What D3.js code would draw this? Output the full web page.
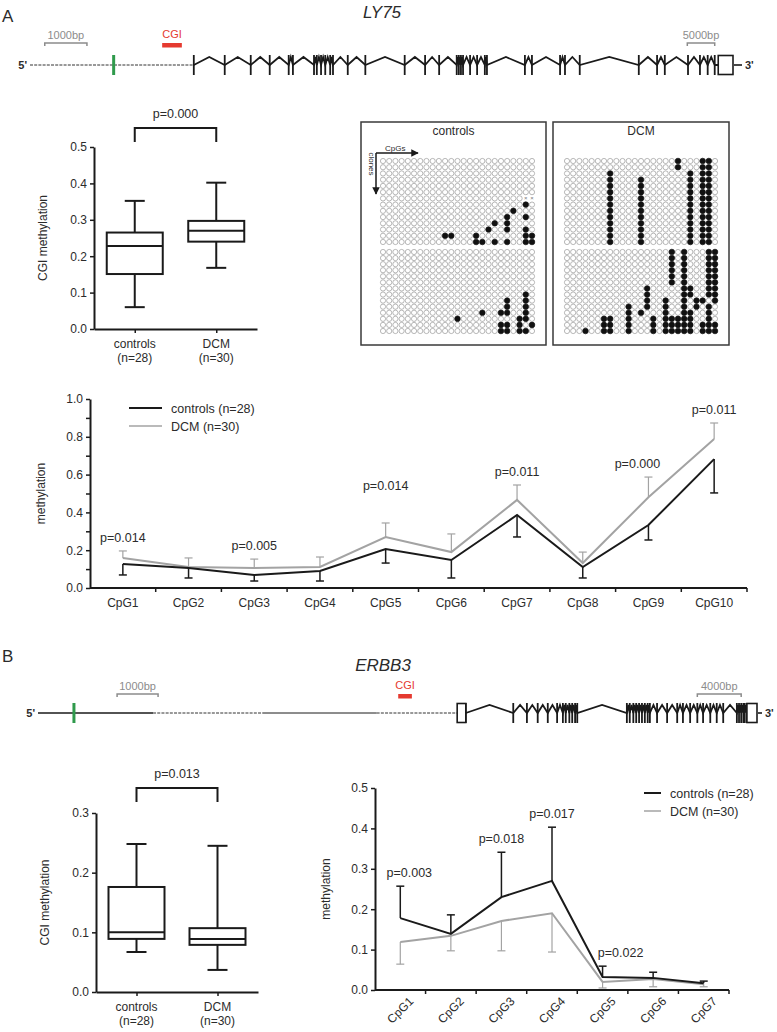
<!DOCTYPE html>
<html>
<head>
<meta charset="utf-8">
<script src="https://cdn.jsdelivr.net/npm/d3@7"></script>
<style>
body { margin: 0; background: #fff; }
svg text { font-family: "Liberation Sans", Arial, sans-serif; fill: #2b2b2b; }
</style>
</head>
<body>
<div id="fig"></div>
<script>
// ---------- data ----------
// gene tracks, positions in track units (0 = left end of drawn line, 100 = right end)
const ly75Exons = [23.3, 27.7, 31.4, 34.1, 36.8, 37.4, 40.4, 40.8, 41.4, 42.0, 42.7, 43.1, 45.2, 47.7,
    53.3, 56.2, 58.2, 60.7, 61.0, 61.3, 61.6, 62.6, 63.6, 64.7, 65.0, 70.4, 71.4, 75.4, 76.1, 78.2,
    86.6, 89.2, 90.3, 93.6, 95.3, 96.4, 97.4];
const ly75Box = [97.9, 100];
const ly75Tss = 11.9;
const ly75Cgi = [18.8, 21.6];
const ly75Segments = [{from: 0, to: 23.3, dashed: true}];
const ly75Bars = [{label: "1000bp", from: 2.1, to: 8.1}, {label: "5000bp", from: 93.5, to: 97.4}];

const erbb3Exons = [59.5, 66.1, 68.0, 69.5, 70.9, 72.2, 73.0, 73.4, 73.9, 74.3, 74.7, 75.0,
    81.9, 82.3, 82.8, 83.2, 83.6, 84.0, 84.4, 84.8, 85.1, 86.1, 87.5, 88.9, 89.7, 90.7, 91.7,
    92.5, 93.5, 94.4, 95.3, 97.2, 97.5, 97.8, 98.1, 98.3, 98.6];
const erbb3Utr = [58.3, 59.5];
const erbb3Box = [98.6, 100];
const erbb3Tss = 5.0;
const erbb3Cgi = [50.1, 52.0];
const erbb3Segments = [{from: 0, to: 16.0, dashed: false}, {from: 16.0, to: 31.2, dashed: true},
    {from: 31.2, to: 47.1, dashed: false, thin: true}, {from: 47.1, to: 58.3, dashed: true}];
const erbb3Bars = [{label: "1000bp", from: 11.0, to: 16.7}, {label: "4000bp", from: 91.7, to: 97.8}];

// box plots (CGI methylation)
const boxGroups = ["controls", "DCM"];
const boxN = ["(n=28)", "(n=30)"];
const boxAMin = [0.060, 0.168];
const boxAQ1 = [0.151, 0.240];
const boxAMed = [0.228, 0.270];
const boxAQ3 = [0.265, 0.297];
const boxAMax = [0.352, 0.402];
const boxATicks = [0, 0.1, 0.2, 0.3, 0.4, 0.5];
const boxAP = "p=0.000";

const boxBMin = [0.067, 0.037];
const boxBQ1 = [0.089, 0.079];
const boxBMed = [0.100, 0.089];
const boxBQ3 = [0.176, 0.107];
const boxBMax = [0.248, 0.245];
const boxBTicks = [0, 0.1, 0.2, 0.3];
const boxBP = "p=0.013";

// per-CpG methylation, LY75
const cpgA = ["CpG1", "CpG2", "CpG3", "CpG4", "CpG5", "CpG6", "CpG7", "CpG8", "CpG9", "CpG10"];
const ctrlA = [0.127, 0.106, 0.069, 0.090, 0.206, 0.148, 0.386, 0.111, 0.333, 0.682];
const ctrlASd = [0.058, 0.053, 0.032, 0.053, 0.074, 0.095, 0.116, 0.058, 0.079, 0.179];
const dcmA = [0.159, 0.111, 0.106, 0.111, 0.270, 0.190, 0.466, 0.132, 0.480, 0.788];
const dcmASd = [0.037, 0.048, 0.047, 0.053, 0.074, 0.096, 0.079, 0.058, 0.107, 0.085];
const pA = ["p=0.014", "", "p=0.005", "", "p=0.014", "", "p=0.011", "", "p=0.000", "p=0.011"];
const yTicksA = [0, 0.1, 0.2, 0.3, 0.4, 0.5, 0.6, 0.7, 0.8, 0.9, 1.0];

// per-CpG methylation, ERBB3
const cpgB = ["CpG1", "CpG2", "CpG3", "CpG4", "CpG5", "CpG6", "CpG7"];
const ctrlB = [0.178, 0.139, 0.230, 0.270, 0.032, 0.030, 0.017];
const ctrlBSd = [0.079, 0.047, 0.111, 0.133, 0.027, 0.014, 0.005];
const dcmB = [0.119, 0.134, 0.171, 0.190, 0.020, 0.027, 0.014];
const dcmBSd = [0.055, 0.037, 0.074, 0.096, 0.015, 0.019, 0.006];
const pB = ["p=0.003", "", "p=0.018", "p=0.017", "p=0.022", "", ""];
const yTicksB = [0, 0.1, 0.2, 0.3, 0.4, 0.5];

const seriesNames = ["controls (n=28)", "DCM (n=30)"];

// bisulfite clone matrices: filled CpG columns per clone row (14 rows x 25 CpGs per block)
const ctrlTop = [[], [], [], [], [], [], [], [23], [21], [20, 23], [18, 20], [17, 20, 23],
    [10, 11, 15, 23, 24], [15, 16, 18, 20, 23, 24]];
const ctrlTopMissing = [[], [], [], [], [], [], [23, 24], [], [], [], [], [], [], []];
const ctrlBottom = [[], [], [], [], [], [], [], [23], [20, 23], [20, 23], [16, 19, 20, 23],
    [12, 22, 23], [19, 20, 22, 24], [19, 20, 22, 23]];
const dcmTop = [[18, 22, 23], [18, 22, 23], [7, 20, 22, 23], [7, 12, 20, 22, 23], [7, 12, 20, 22, 23],
    [7, 12, 20, 22, 23], [7, 12, 20, 22, 23], [7, 12, 20, 22, 23], [7, 12, 20, 22, 23],
    [7, 12, 20, 22, 23], [7, 12, 20, 22, 23], [7, 12, 20, 22, 23], [7, 12, 20, 22, 23],
    [7, 12, 20, 22, 23]];
const dcmBottom = [[17, 19, 23, 24], [17, 19, 23, 24], [17, 19, 23, 24], [17, 19, 23, 24],
    [17, 19, 23, 24], [17, 19, 23, 24], [13, 19, 20, 23, 24], [13, 19, 20, 23, 24],
    [13, 16, 19, 21, 22, 24], [10, 13, 16, 19, 21, 23], [10, 12, 16, 19, 20, 23],
    [6, 7, 10, 14, 16, 17, 18, 19, 20, 23], [6, 7, 10, 14, 16, 17, 18, 19, 20, 22, 23, 24],
    [3, 6, 7, 10, 14, 16, 17, 18, 19, 20, 22, 23, 24]];

// ---------- drawing ----------
const svg = d3.select("#fig").append("svg")
    .attr("width", 777)
    .attr("height", 1032);

const f1 = d3.format(".1f");

// style an axis group
function styleAxis(sel) {
    sel.select(".domain").attr("stroke", "#1a1a1a").attr("stroke-width", 2);
    sel.selectAll(".tick line").attr("stroke", "#1a1a1a").attr("stroke-width", 1.5);
    sel.selectAll(".tick text").style("font-size", "12px").attr("fill", "#2b2b2b");
}

// gene structure track
function geneTrack(cfg) {
    const g = svg.append("g");
    const x = d3.scaleLinear().domain([0, 100]).range([cfg.x0, cfg.x1]);
    const yl = cfg.y;

    // upstream line pieces
    cfg.segments.forEach(s => {
        g.append("line")
            .attr("x1", x(s.from)).attr("x2", x(s.to))
            .attr("y1", yl).attr("y2", yl)
            .attr("stroke", s.dashed ? "#333" : "#1a1a1a")
            .attr("stroke-width", s.dashed ? 1 : (s.thin ? 1 : 1.6))
            .attr("stroke-dasharray", s.dashed ? "3,1.2" : null);
    });

    // introns as chevrons between exons
    const pts = [];
    cfg.exons.forEach((e, i) => {
        pts.push([x(e), yl]);
        if (i < cfg.exons.length - 1) {
            pts.push([x((e + cfg.exons[i + 1]) / 2), yl - 8]);
        }
    });
    pts.push([x(cfg.box[0]), yl]);
    g.append("path")
        .attr("d", d3.line()(pts))
        .attr("fill", "none")
        .attr("stroke", "#1a1a1a")
        .attr("stroke-width", 1.8)
        .attr("stroke-linejoin", "miter");

    // exon ticks
    g.selectAll(".exon")
        .data(cfg.exons)
        .join("line")
        .attr("x1", d => x(d)).attr("x2", d => x(d))
        .attr("y1", yl - 10).attr("y2", yl + 10)
        .attr("stroke", "#1a1a1a")
        .attr("stroke-width", 1.8);

    // UTR boxes
    [cfg.utr, cfg.box].filter(b => b).forEach(b => {
        g.append("rect")
            .attr("x", x(b[0])).attr("y", yl - 9.5)
            .attr("width", x(b[1]) - x(b[0])).attr("height", 19)
            .attr("fill", "#fff").attr("stroke", "#1a1a1a").attr("stroke-width", 1.6);
    });

    // TSS (green)
    g.append("line")
        .attr("x1", x(cfg.tss)).attr("x2", x(cfg.tss))
        .attr("y1", yl - 10).attr("y2", yl + 10)
        .attr("stroke", "#2f9a4c").attr("stroke-width", 3);

    // CGI
    g.append("rect")
        .attr("x", x(cfg.cgi[0])).attr("y", cfg.cgiY)
        .attr("width", x(cfg.cgi[1]) - x(cfg.cgi[0])).attr("height", 4.5)
        .attr("fill", "#e53a30");
    g.append("text")
        .attr("x", (x(cfg.cgi[0]) + x(cfg.cgi[1])) / 2).attr("y", cfg.cgiY - 5)
        .attr("text-anchor", "middle")
        .style("font-size", "11px")
        .style("fill", "#e53a30")
        .text("CGI");

    // scale bars
    cfg.bars.forEach(b => {
        const by = cfg.barY;
        g.append("path")
            .attr("d", `M${x(b.from)},${by + 3}V${by}H${x(b.to)}V${by + 3}`)
            .attr("fill", "none").attr("stroke", "#8c8c8c").attr("stroke-width", 1.5);
        g.append("text")
            .attr("x", (x(b.from) + x(b.to)) / 2).attr("y", by - 4)
            .attr("text-anchor", "middle")
            .style("font-size", "11px")
            .style("fill", "#8c8c8c")
            .text(b.label);
    });

    // 5' and 3' ends
    g.append("text")
        .attr("x", cfg.x0 - 3).attr("y", yl + 4)
        .attr("text-anchor", "end")
        .style("font-size", "11px").style("font-weight", "bold")
        .text("5'");
    g.append("line")
        .attr("x1", cfg.x1 + 1).attr("x2", cfg.x1 + cfg.tailLen)
        .attr("y1", yl).attr("y2", yl)
        .attr("stroke", "#1a1a1a").attr("stroke-width", 1.6);
    g.append("text")
        .attr("x", cfg.x1 + cfg.tailLen + 3).attr("y", yl + 4)
        .style("font-size", "11px").style("font-weight", "bold")
        .text("3'");

    // gene name
    g.append("text")
        .attr("x", cfg.nameX).attr("y", cfg.nameY)
        .attr("text-anchor", "middle")
        .style("font-size", "17px").style("font-style", "italic")
        .text(cfg.name);
}

// box plot of CGI methylation
function boxPanel(cfg) {
    const g = svg.append("g");
    const y = d3.scaleLinear().domain([0, cfg.yMax]).range([cfg.y0, cfg.y1]);
    const x = d3.scalePoint().domain(boxGroups).range([cfg.x0, cfg.x1]).padding(0.5);

    g.append("g")
        .attr("transform", `translate(${cfg.x0},0)`)
        .call(d3.axisLeft(y).tickValues(cfg.ticks).tickFormat(f1).tickSize(4).tickSizeOuter(0))
        .call(styleAxis);
    g.append("g")
        .attr("transform", `translate(0,${cfg.y0})`)
        .call(d3.axisBottom(x).tickSize(4).tickSizeOuter(0).tickFormat(""))
        .call(styleAxis);

    // group labels
    boxGroups.forEach((grp, i) => {
        g.append("text").attr("x", x(grp)).attr("y", cfg.y0 + 19)
            .attr("text-anchor", "middle").style("font-size", "12px").text(grp);
        g.append("text").attr("x", x(grp)).attr("y", cfg.y0 + 33)
            .attr("text-anchor", "middle").style("font-size", "12px").text(boxN[i]);
    });

    // y title
    g.append("text")
        .attr("transform", `translate(${cfg.x0 - 47},${(cfg.y0 + cfg.y1) / 2}) rotate(-90)`)
        .attr("text-anchor", "middle")
        .style("font-size", "12px")
        .text("CGI methylation");

    const bw = 56, cap = 20;
    const stats = boxGroups.map((grp, i) => ({
        grp, min: cfg.min[i], q1: cfg.q1[i], med: cfg.med[i], q3: cfg.q3[i], max: cfg.max[i]
    }));
    const bx = g.selectAll(".bx").data(stats).join("g");
    bx.append("line")
        .attr("x1", d => x(d.grp)).attr("x2", d => x(d.grp))
        .attr("y1", d => y(d.max)).attr("y2", d => y(d.min))
        .attr("stroke", "#1a1a1a").attr("stroke-width", 2);
    bx.append("rect")
        .attr("x", d => x(d.grp) - bw / 2).attr("width", bw)
        .attr("y", d => y(d.q3)).attr("height", d => y(d.q1) - y(d.q3))
        .attr("fill", "#fff").attr("stroke", "#1a1a1a").attr("stroke-width", 2);
    bx.append("line")
        .attr("x1", d => x(d.grp) - bw / 2).attr("x2", d => x(d.grp) + bw / 2)
        .attr("y1", d => y(d.med)).attr("y2", d => y(d.med))
        .attr("stroke", "#1a1a1a").attr("stroke-width", 2);
    ["min", "max"].forEach(k => {
        bx.append("line")
            .attr("x1", d => x(d.grp) - cap / 2).attr("x2", d => x(d.grp) + cap / 2)
            .attr("y1", d => y(d[k])).attr("y2", d => y(d[k]))
            .attr("stroke", "#1a1a1a").attr("stroke-width", 2);
    });

    // significance bracket
    const xa = x(boxGroups[0]), xb = x(boxGroups[1]);
    g.append("path")
        .attr("d", `M${xa},${cfg.brLeg}V${cfg.brY}H${xb}V${cfg.brLeg}`)
        .attr("fill", "none").attr("stroke", "#1a1a1a").attr("stroke-width", 2);
    g.append("text")
        .attr("x", (xa + xb) / 2).attr("y", cfg.brY - 10)
        .attr("text-anchor", "middle").style("font-size", "12.5px")
        .text(cfg.p);
}

// methylation per CpG line chart
function linePanel(cfg) {
    const g = svg.append("g");
    const x = d3.scaleBand().domain(cfg.cats).range([cfg.x0, cfg.x1]);
    const y = d3.scaleLinear().domain([0, cfg.yMax]).range([cfg.y0, cfg.y1]);
    const cx = c => x(c) + x.bandwidth() / 2;

    g.append("g")
        .attr("transform", `translate(${cfg.x0},0)`)
        .call(d3.axisLeft(y).tickValues(cfg.ticks)
            .tickFormat(d => cfg.labelEvery2 ? (Math.round(d * 10) % 2 === 0 ? f1(d) : "") : f1(d))
            .tickSize(4).tickSizeOuter(0))
        .call(styleAxis);

    // x axis with ticks at band boundaries
    const xa = g.append("g").attr("transform", `translate(0,${cfg.y0})`);
    xa.append("line").attr("x1", cfg.x0).attr("x2", cfg.x1)
        .attr("stroke", "#1a1a1a").attr("stroke-width", 2);
    xa.selectAll(".bt").data(cfg.cats).join("line")
        .attr("x1", d => x(d) + x.bandwidth()).attr("x2", d => x(d) + x.bandwidth())
        .attr("y1", 0).attr("y2", 4)
        .attr("stroke", "#1a1a1a").attr("stroke-width", 1.5);
    if (cfg.rotate) {
        xa.selectAll(".lbl").data(cfg.cats).join("text")
            .attr("transform", d => `translate(${cx(d) + 11},${9}) rotate(-45)`)
            .attr("text-anchor", "end")
            .attr("dy", "0.35em")
            .style("font-size", "12px")
            .text(d => d);
    } else {
        xa.selectAll(".lbl").data(cfg.cats).join("text")
            .attr("x", d => cx(d)).attr("y", 19)
            .attr("text-anchor", "middle")
            .style("font-size", "12px")
            .text(d => d);
    }

    g.append("text")
        .attr("transform", `translate(${cfg.x0 - 45},${(cfg.y0 + cfg.y1) / 2}) rotate(-90)`)
        .attr("text-anchor", "middle")
        .style("font-size", "12px")
        .text("methylation");

    const series = [
        {vals: cfg.dcm, sd: cfg.dcmSd, dir: cfg.dcmDir, color: "#a3a3a3", w: 2, ew: 1.2},
        {vals: cfg.ctrl, sd: cfg.ctrlSd, dir: cfg.ctrlDir, color: "#1a1a1a", w: 2, ew: 1.5}
    ];
    series.forEach(s => {
        const pts = cfg.cats.map((c, i) => ({c, v: s.vals[i], e: s.vals[i] + s.dir * s.sd[i]}));
        g.selectAll(null).data(pts).join("line")
            .attr("x1", d => cx(d.c)).attr("x2", d => cx(d.c))
            .attr("y1", d => y(d.v)).attr("y2", d => y(d.e))
            .attr("stroke", s.color).attr("stroke-width", s.ew);
        g.selectAll(null).data(pts).join("line")
            .attr("x1", d => cx(d.c) - 4).attr("x2", d => cx(d.c) + 4)
            .attr("y1", d => y(d.e)).attr("y2", d => y(d.e))
            .attr("stroke", s.color).attr("stroke-width", s.ew);
    });
    series.forEach(s => {
        g.append("path")
            .datum(cfg.cats.map((c, i) => [cx(c), y(s.vals[i])]))
            .attr("d", d3.line())
            .attr("fill", "none")
            .attr("stroke", s.color)
            .attr("stroke-width", s.w)
            .attr("stroke-linejoin", "miter");
    });

    // p-values above the upper error bar
    cfg.cats.forEach((c, i) => {
        if (!cfg.p[i]) return;
        const top = Math.max(cfg.ctrl[i] + (cfg.ctrlDir > 0 ? cfg.ctrlSd[i] : 0),
                             cfg.dcm[i] + (cfg.dcmDir > 0 ? cfg.dcmSd[i] : 0));
        const nud = cfg.nudge[i] || [0, 0];
        g.append("text")
            .attr("x", cx(c) + nud[0]).attr("y", y(top) - 9 + nud[1])
            .attr("text-anchor", "middle")
            .style("font-size", "12.5px")
            .text(cfg.p[i]);
    });

    // legend
    const lg = g.append("g").attr("transform", `translate(${cfg.legX},${cfg.legY})`);
    seriesNames.forEach((nm, i) => {
        lg.append("line").attr("x1", 0).attr("x2", cfg.legW).attr("y1", i * 18).attr("y2", i * 18)
            .attr("stroke", i === 0 ? "#1a1a1a" : "#a3a3a3").attr("stroke-width", i === 0 ? 2 : 1.5);
        lg.append("text").attr("x", cfg.legW + 9).attr("y", i * 18 + 4.5)
            .style("font-size", "12.5px").text(nm);
    });
}

// clone methylation matrix
function cloneMatrix(cfg) {
    const g = svg.append("g");
    g.append("rect")
        .attr("x", cfg.x).attr("y", 122).attr("width", cfg.w).attr("height", 223)
        .attr("fill", "#fff").attr("stroke", "#3a3a3a").attr("stroke-width", 1.5);
    g.append("text")
        .attr("x", cfg.x + cfg.w / 2).attr("y", 135)
        .attr("text-anchor", "middle").style("font-size", "12px")
        .text(cfg.title);
    const cx = d3.scalePoint().domain(d3.range(25)).range([cfg.c0, cfg.c1]);
    cfg.blocks.forEach(b => {
        const ry = d3.scalePoint().domain(d3.range(14)).range(b.rows);
        d3.range(14).forEach(r => {
            d3.range(25).forEach(c => {
                const miss = b.missing && b.missing[r].includes(c);
                const on = b.filled[r].includes(c);
                if (miss) {
                    g.append("text").attr("x", cx(c)).attr("y", ry(r) + 2)
                        .attr("text-anchor", "middle").style("font-size", "6px").style("fill", "#777")
                        .text("×");
                } else {
                    g.append("circle")
                        .attr("cx", cx(c)).attr("cy", ry(r))
                        .attr("r", on ? 2.8 : 2.6)
                        .attr("fill", on ? "#111" : "#fff")
                        .attr("stroke", on ? "#111" : "#9a9a9a")
                        .attr("stroke-width", 0.7);
                }
            });
        });
    });
}

// ---------- panel A ----------
svg.append("text").attr("x", 2).attr("y", 22).style("font-size", "17px").text("A");

geneTrack({
    x0: 30, x1: 733, y: 65, exons: ly75Exons, box: ly75Box, tss: ly75Tss, cgi: ly75Cgi,
    segments: ly75Segments, bars: ly75Bars, cgiY: 43, barY: 43, tailLen: 9,
    name: "LY75", nameX: 382, nameY: 18
});

boxPanel({
    x0: 94, x1: 257, y0: 329, y1: 147, yMax: 0.5, ticks: boxATicks,
    min: boxAMin, q1: boxAQ1, med: boxAMed, q3: boxAQ3, max: boxAMax,
    p: boxAP, brY: 128, brLeg: 142
});

cloneMatrix({x: 361, w: 185, title: "controls", c0: 383, c1: 532,
    blocks: [{rows: [161, 242], filled: ctrlTop, missing: ctrlTopMissing},
             {rows: [252, 331], filled: ctrlBottom}]});
cloneMatrix({x: 553, w: 176, title: "DCM", c0: 567, c1: 715,
    blocks: [{rows: [161, 242], filled: dcmTop},
             {rows: [252, 331], filled: dcmBottom}]});

// CpGs / clones arrows
svg.append("defs").append("marker")
    .attr("id", "arr").attr("viewBox", "0 0 10 10").attr("refX", 9).attr("refY", 5)
    .attr("markerWidth", 5).attr("markerHeight", 5).attr("orient", "auto")
    .append("path").attr("d", "M0,0L10,5L0,10z").attr("fill", "#1a1a1a");
svg.append("path").attr("d", "M376,153H418").attr("stroke", "#1a1a1a").attr("stroke-width", 1.5)
    .attr("marker-end", "url(#arr)");
svg.append("path").attr("d", "M376,153V194").attr("stroke", "#1a1a1a").attr("stroke-width", 1.5)
    .attr("marker-end", "url(#arr)");
svg.append("text").attr("x", 385).attr("y", 151).style("font-size", "8px").text("CpGs");
svg.append("text").attr("transform", "translate(369,164) rotate(90)").attr("text-anchor", "middle")
    .style("font-size", "8px").text("clones");

linePanel({
    cats: cpgA, x0: 90, x1: 747, y0: 588, y1: 399, yMax: 1.0, ticks: yTicksA, labelEvery2: true,
    ctrl: ctrlA, ctrlSd: ctrlASd, ctrlDir: -1, dcm: dcmA, dcmSd: dcmASd, dcmDir: 1,
    p: pA, nudge: {4: [0, -24], 8: [-11, 0]}, legX: 129, legY: 408, legW: 33, rotate: false
});

// ---------- panel B ----------
svg.append("text").attr("x", 2).attr("y", 662).style("font-size", "17px").text("B");

geneTrack({
    x0: 38, x1: 757, y: 713, exons: erbb3Exons, box: erbb3Box, utr: erbb3Utr, tss: erbb3Tss,
    cgi: erbb3Cgi, segments: erbb3Segments, bars: erbb3Bars, cgiY: 694, barY: 694, tailLen: 5,
    name: "ERBB3", nameX: 383, nameY: 671
});

boxPanel({
    x0: 96, x1: 258, y0: 992, y1: 813, yMax: 0.3, ticks: boxBTicks,
    min: boxBMin, q1: boxBQ1, med: boxBMed, q3: boxBQ3, max: boxBMax,
    p: boxBP, brY: 788, brLeg: 802
});

linePanel({
    cats: cpgB, x0: 375, x1: 729, y0: 990, y1: 788, yMax: 0.5, ticks: yTicksB, labelEvery2: false,
    ctrl: ctrlB, ctrlSd: ctrlBSd, ctrlDir: 1, dcm: dcmB, dcmSd: dcmBSd, dcmDir: -1,
    p: pB, nudge: {0: [9, 0], 4: [18, 0]}, legX: 644, legY: 793, legW: 17, rotate: true
});
</script>
</body>
</html>
